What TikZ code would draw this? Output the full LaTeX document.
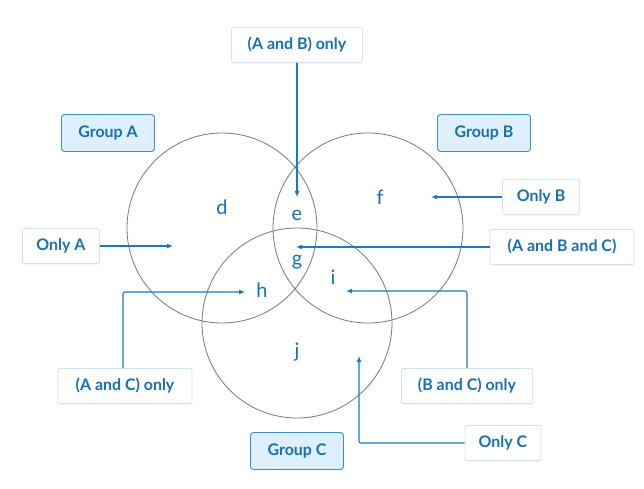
\documentclass[tikz,border=0pt]{standalone}
\usepackage{fontspec}
\setmainfont{Lato}
\usetikzlibrary{arrows.meta,shadows}
\definecolor{txtblue}{RGB}{22,112,178}
\definecolor{lineblue}{RGB}{30,120,190}
\definecolor{boxborder}{RGB}{205,228,245}
\definecolor{groupfill}{RGB}{222,240,253}
\definecolor{groupborder}{RGB}{60,140,200}
\definecolor{circgray}{RGB}{115,120,138}
\begin{document}
\begin{tikzpicture}[x=1bp,y=-1bp,
  labelbox/.style={draw=boxborder, line width=0.8bp, fill=white, rounded corners=2bp,
    text=txtblue, font=\fontsize{16}{18}\selectfont\bfseries, minimum height=35bp, inner xsep=6bp,
    drop shadow={opacity=0.07, shadow xshift=0bp, shadow yshift=-1.5bp}},
  groupbox/.style={draw=groupborder, line width=0.9bp, fill=groupfill, rounded corners=3bp,
    text=txtblue, font=\fontsize{16}{18}\selectfont\bfseries, minimum height=37bp, minimum width=93bp},
  venn/.style={draw=circgray, line width=0.8bp},
  region/.style={text=txtblue, font=\fontsize{20}{22}\selectfont},
  conn/.style={draw=lineblue, line width=1.1bp, rounded corners=2bp, -{Latex[length=6bp,width=5bp]}}
]
\useasboundingbox (0,0) rectangle (644,489);
\fill[white] (0,0) rectangle (644,489);

% circles
\draw[venn] (222,228) circle (95);
\draw[venn] (368,228) circle (95);
\draw[venn] (297,323) circle (95);

% region letters
\node[region] (d) at (222,207) {d};
\node[region] (e) at (297,215) {e};
\node[region] (f) at (380,197) {f};
\node[region] (g) at (297,262) {g};
\node[region] (h) at (262,290) {h};
\node[region] (i) at (333,277) {i};
\node[region] (j) at (297,352) {j};

% target coordinates
\coordinate (tAB) at (297,197);
\coordinate (tA) at (173,246);
\coordinate (tB) at (431,197);
\coordinate (tABC) at (296,247);
\coordinate (tAC) at (245,292);
\coordinate (tBC) at (346,291);
\coordinate (tC) at (359,356);

% group boxes
\node[groupbox] (GA) at (108,133) {Group A};
\node[groupbox] (GB) at (484,133) {Group B};
\node[groupbox] (GC) at (297,451) {Group C};

% label boxes
\node[labelbox, minimum width=131bp] (AB) at (297,45) {(A and B) only};
\node[labelbox, minimum width=77bp] (OA) at (61,246) {Only A};
\node[labelbox, minimum width=77bp] (OB) at (541,197) {Only B};
\node[labelbox, minimum width=144bp] (ABC) at (562,247) {(A and B and C)};
\node[labelbox, minimum width=134bp] (AC) at (125,386) {(A and C) only};
\node[labelbox, minimum width=131bp] (BC) at (467,386) {(B and C) only};
\node[labelbox, minimum width=76bp] (OC) at (503,443) {Only C};

% connectors
\draw[conn] (AB.south) -- (tAB);
\draw[conn] (OA.east) -- (tA);
\draw[conn] (OB.west) -- (tB);
\draw[conn] (ABC.west) -- (tABC);
\draw[conn] (AC.north -| 123,0) -- (123,292) -- (tAC);
\draw[conn] (BC.north) -- (467,291) -- (tBC);
\draw[conn] (OC.west) -- (359,443) -- (tC);
\end{tikzpicture}
\end{document}
